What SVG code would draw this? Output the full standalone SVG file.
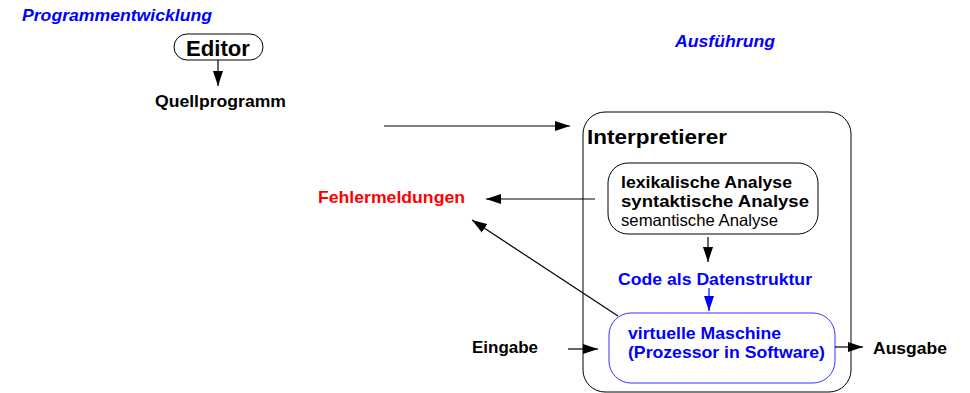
<svg xmlns="http://www.w3.org/2000/svg" width="970" height="393" viewBox="0 0 970 393">
<style>
text{font-family:"Liberation Sans",Arial,sans-serif;font-weight:bold;font-size:16.5px;fill:#000}
.blue{fill:#0000ff}
.it{font-style:italic}
.red{fill:#ff0000}
.reg{font-weight:normal}
.box{fill:none;stroke:#000;stroke-width:1}
.conn{fill:none;stroke:#000;stroke-width:1.2}
</style>
<defs>
<marker id="ah" markerUnits="userSpaceOnUse" markerWidth="15" markerHeight="11" refX="15" refY="5.5" orient="auto"><path d="M0,0.5 L15,5.5 L0,10.5 z" fill="#000"/></marker>
<marker id="ahb" markerUnits="userSpaceOnUse" markerWidth="15" markerHeight="11" refX="15" refY="5.5" orient="auto"><path d="M0,0.5 L15,5.5 L0,10.5 z" fill="#0000ff"/></marker>
</defs>
<text class="blue it" x="22" y="21" textLength="190" lengthAdjust="spacingAndGlyphs">Programmentwicklung</text>
<text class="blue it" x="675" y="47" textLength="100" lengthAdjust="spacingAndGlyphs">Ausführung</text>
<g id="editor">
<rect class="box" x="174" y="34" width="89" height="26" rx="13"/>
<text x="186" y="56" style="font-size:22px" textLength="64" lengthAdjust="spacingAndGlyphs">Editor</text>
</g>
<g id="quellprogramm"><text x="155" y="107" textLength="131" lengthAdjust="spacingAndGlyphs">Quellprogramm</text></g>
<g id="interpretierer">
<rect class="box" x="583" y="112" width="268" height="280" rx="22"/>
<text x="587" y="144" style="font-size:21px" textLength="140" lengthAdjust="spacingAndGlyphs">Interpretierer</text>
</g>
<g id="analyse">
<rect class="box" x="608" y="163" width="210" height="71" rx="20"/>
<text x="621" y="188" textLength="171" lengthAdjust="spacingAndGlyphs">lexikalische Analyse</text>
<text x="621" y="207" textLength="188" lengthAdjust="spacingAndGlyphs">syntaktische Analyse</text>
<text class="reg" x="621" y="226" textLength="157" lengthAdjust="spacingAndGlyphs">semantische Analyse</text>
</g>
<g id="fehlermeldungen"><text class="red" x="318" y="203" textLength="147" lengthAdjust="spacingAndGlyphs">Fehlermeldungen</text></g>
<g id="code"><text class="blue" x="618" y="285" textLength="194" lengthAdjust="spacingAndGlyphs">Code als Datenstruktur</text></g>
<g id="vm">
<rect x="609" y="313" width="226" height="70" rx="22" fill="none" stroke="#3333ff" stroke-width="1"/>
<text class="blue" x="628" y="339" textLength="153" lengthAdjust="spacingAndGlyphs">virtuelle Maschine</text>
<text class="blue" x="628" y="358" textLength="197" lengthAdjust="spacingAndGlyphs">(Prozessor in Software)</text>
</g>
<g id="eingabe"><text x="472" y="353" textLength="66" lengthAdjust="spacingAndGlyphs">Eingabe</text></g>
<g id="ausgabe"><text x="873" y="354" textLength="74" lengthAdjust="spacingAndGlyphs">Ausgabe</text></g>
<g id="connectors">
<line class="conn" x1="218" y1="60" x2="218" y2="86" marker-end="url(#ah)"/>
<line class="conn" x1="384" y1="126" x2="570" y2="126" marker-end="url(#ah)"/>
<line class="conn" x1="595" y1="199" x2="486" y2="199" marker-end="url(#ah)"/>
<line class="conn" x1="618" y1="316" x2="472" y2="220" marker-end="url(#ah)"/>
<line class="conn" x1="708" y1="237" x2="708" y2="262" marker-end="url(#ah)"/>
<line x1="709" y1="288" x2="709" y2="311" stroke="#0000ff" stroke-width="1.2" marker-end="url(#ahb)"/>
<line class="conn" x1="568" y1="349" x2="598" y2="349" marker-end="url(#ah)"/>
<line class="conn" x1="835" y1="347" x2="863" y2="347" marker-end="url(#ah)"/>
</g>
</svg>
